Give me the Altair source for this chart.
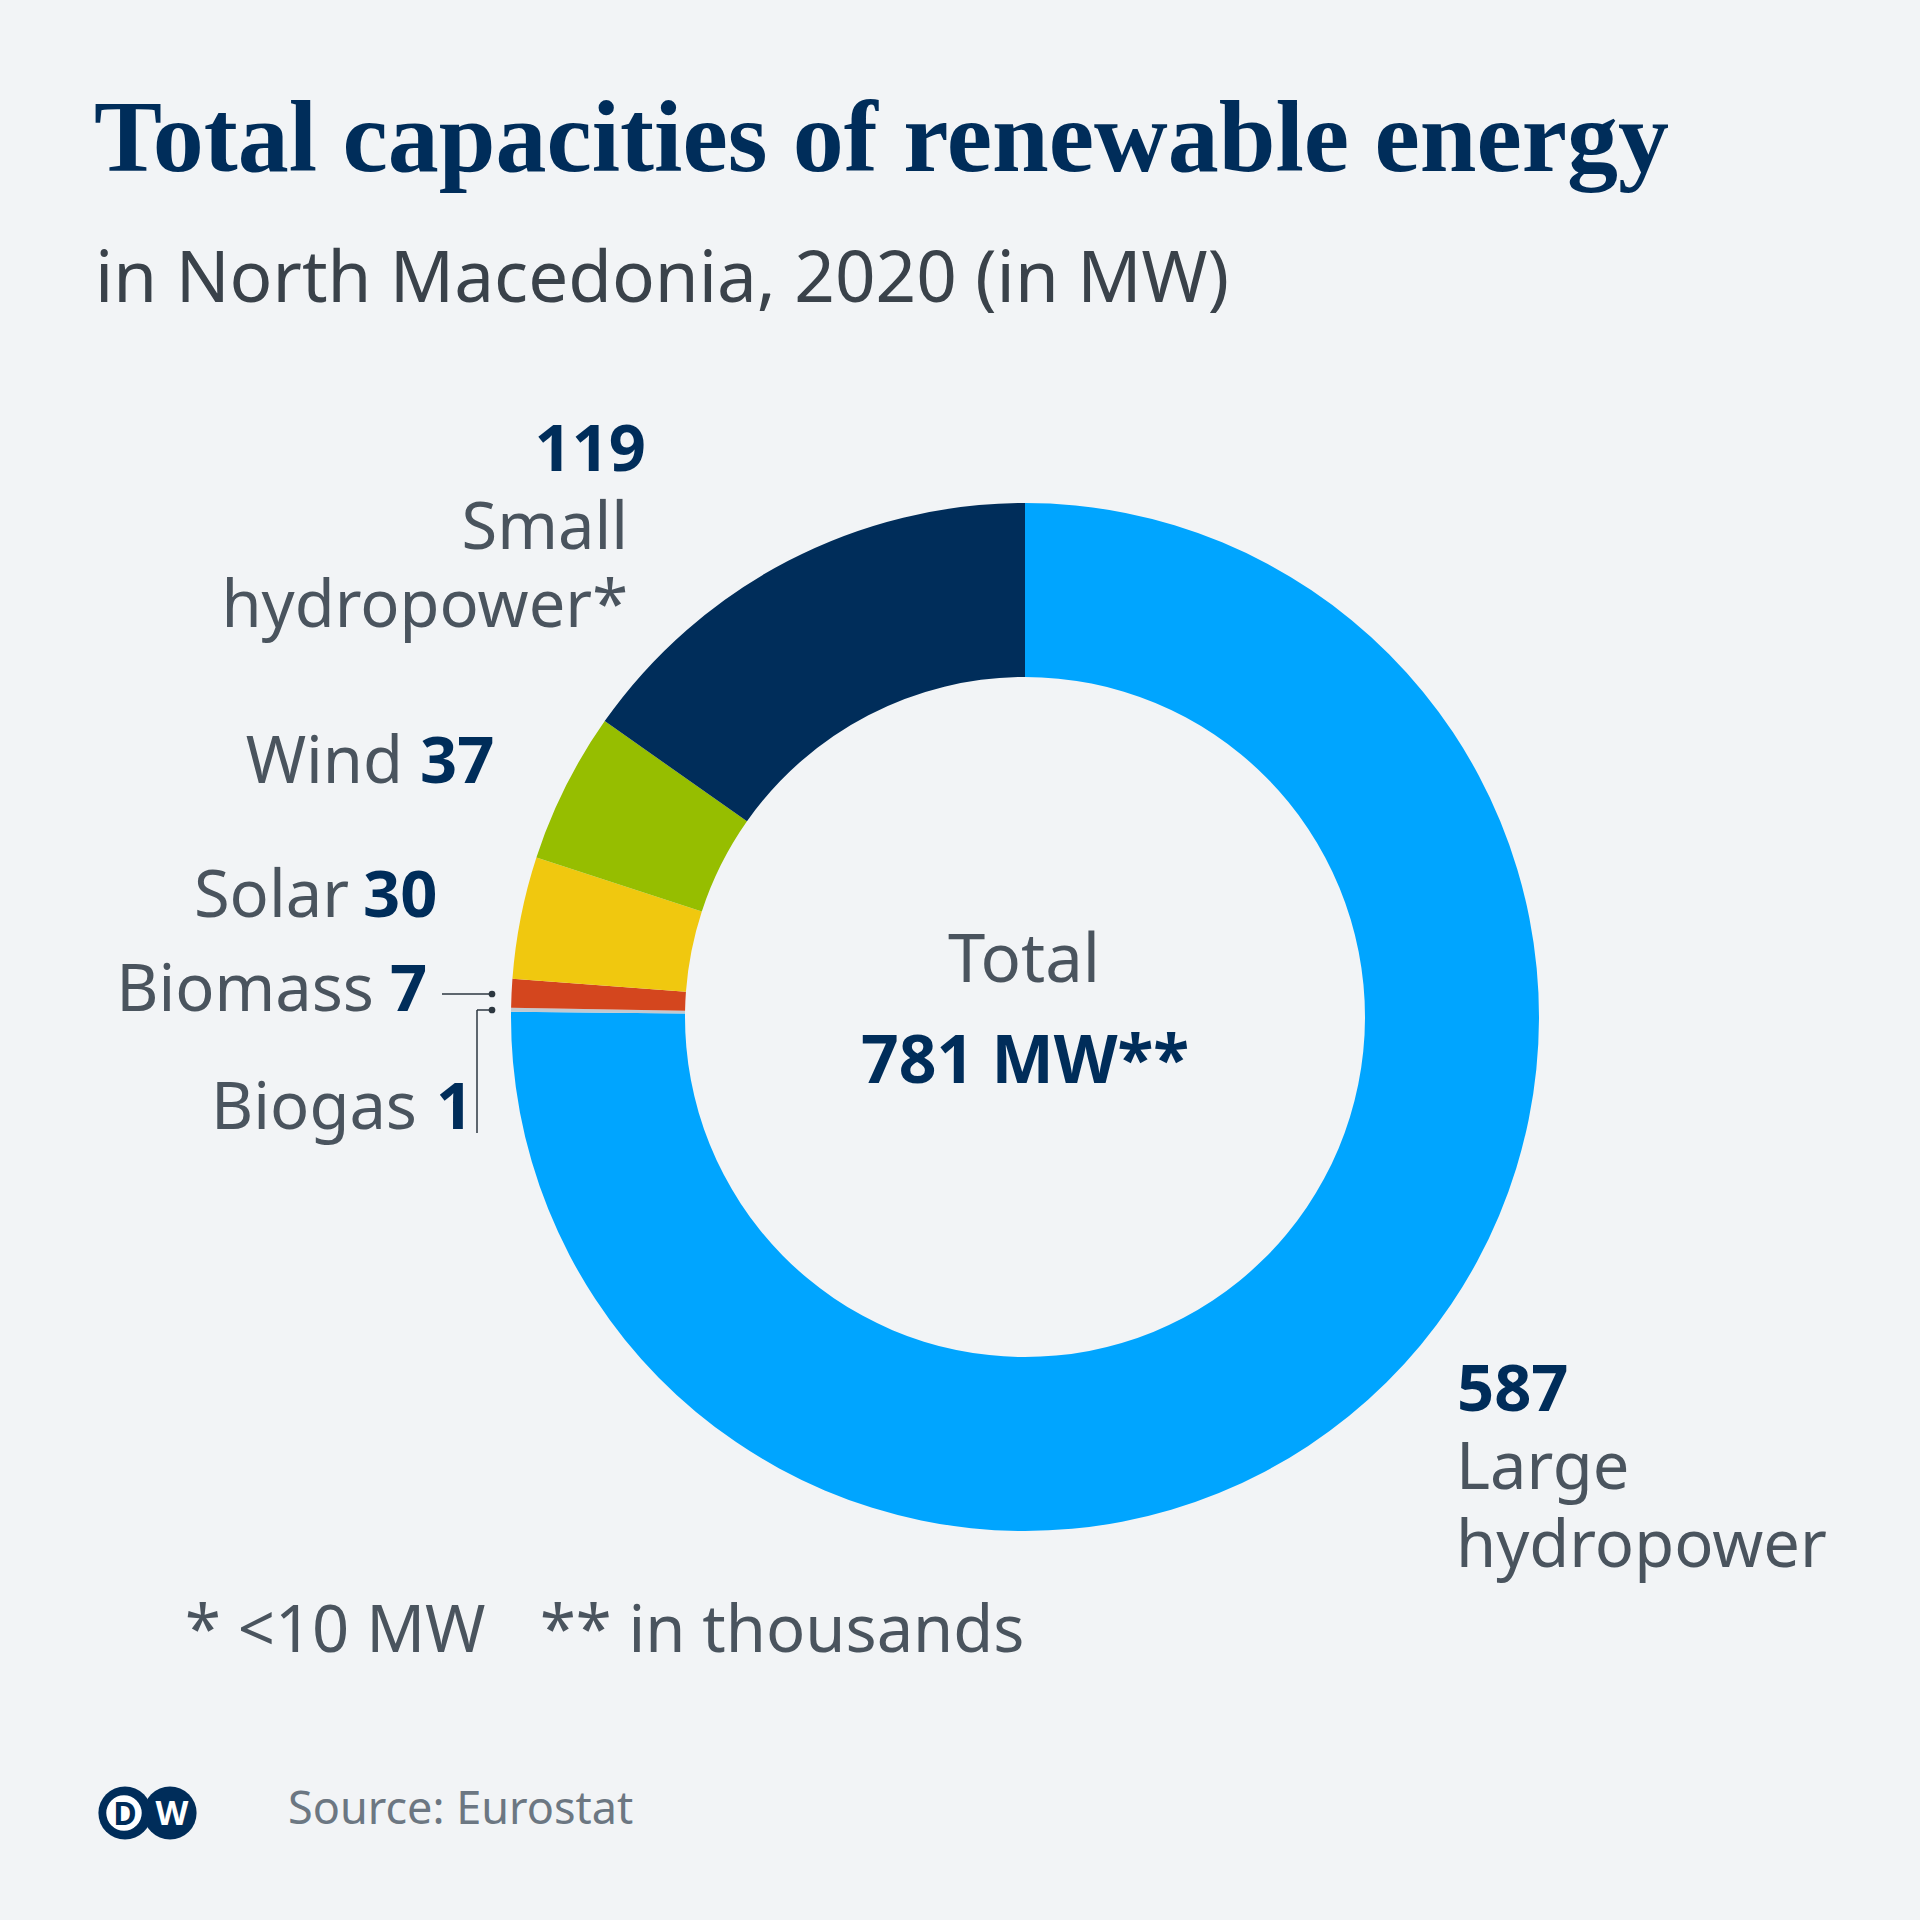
import altair as alt
import pandas as pd

# ---- data ----
categories = ["Large hydropower", "Biogas", "Biomass", "Solar", "Wind", "Small hydropower*"]
values = [587, 1, 7, 30, 37, 119]
colors = ["#00a5ff", "#c2c9d0", "#d4461e", "#f0c80f", "#96be00", "#002d5a"]
total = 781

df = pd.DataFrame({"category": categories, "value": values,
                   "order": list(range(len(categories)))})

NAVY = "#002d5a"
GREY = "#4a545e"
FONT = "Noto Sans"
CX, CY = 1025, 1017

one = alt.Data(values=[{"a": 1}])


def txt(s, x, y, size=65, color=GREY, weight="normal", align="left", font=FONT):
    return alt.Chart(one).mark_text(
        text=s, fontSize=size, color=color, fontWeight=weight, align=align,
        baseline="alphabetic", font=font
    ).encode(x=alt.value(x), y=alt.value(y))


def rule(x1, y1, x2, y2, color="#2d3740", w=1.5):
    return alt.Chart(one).mark_rule(color=color, strokeWidth=w).encode(
        x=alt.value(x1), x2=alt.value(x2), y=alt.value(y1), y2=alt.value(y2))


def dot(x, y, size, color, opacity=1):
    return alt.Chart(one).mark_circle(size=size, color=color, opacity=opacity).encode(
        x=alt.value(x), y=alt.value(y))


donut = alt.Chart(df).mark_arc(innerRadius=340, outerRadius=514).encode(
    theta=alt.Theta("value:Q", stack=True),
    color=alt.Color("category:N", scale=alt.Scale(domain=categories, range=colors), legend=None),
    order=alt.Order("order:Q"),
    x=alt.value(CX), y=alt.value(CY),
)

v = dict(zip(categories, values))

layers = [
    donut,
    # title and subtitle
    txt("Total capacities of renewable energy", 94, 171, size=102, color=NAVY,
        weight="bold", font="Liberation Serif"),
    txt("in North Macedonia, 2020 (in MW)", 95, 302, size=71, color="#3a424a"),
    # small hydropower
    txt(str(v["Small hydropower*"]), 646, 471, color=NAVY, weight="bold", align="right"),
    txt("Small", 628, 549, align="right"),
    txt("hydropower*", 628, 627, align="right"),
    # wind
    txt("Wind", 403, 783, align="right"),
    txt(str(v["Wind"]), 420, 783, color=NAVY, weight="bold"),
    # solar
    txt("Solar", 349, 917, align="right"),
    txt(str(v["Solar"]), 363, 917, color=NAVY, weight="bold"),
    # biomass
    txt("Biomass", 374, 1011, align="right"),
    txt(str(v["Biomass"]), 390, 1011, color=NAVY, weight="bold"),
    # biogas
    txt("Biogas", 417, 1129, align="right"),
    txt(str(v["Biogas"]), 436, 1129, color=NAVY, weight="bold"),
    # large hydropower
    txt(str(v["Large hydropower"]), 1457, 1411, color=NAVY, weight="bold"),
    txt("Large", 1456, 1489),
    txt("hydropower", 1456, 1567),
    # center
    txt("Total", 1024, 982, size=67, align="center"),
    txt(f"{total} MW**", 1025, 1083, size=66, color=NAVY, weight="bold", align="center"),
    # leader lines
    rule(442, 994, 492, 994),
    rule(477, 1010, 492, 1010),
    rule(477, 1010, 477, 1133),
    dot(492, 994, 45, "#2d3740"),
    dot(492, 1010, 45, "#2d3740"),
    # footnotes
    txt("* <10 MW", 185, 1652),
    txt("** in thousands", 540, 1652),
    txt("Source: Eurostat", 288, 1824, size=45, color="#6c7782"),
    # DW logo
    dot(170, 1813, 2827, NAVY),
    dot(125, 1813, 2827, NAVY),
    dot(124, 1813, 1257, "#ffffff"),
    txt("D", 125, 1825, size=32, color=NAVY, weight="bold", align="center"),
    txt("W", 172, 1825, size=34, color="#ffffff", weight="bold", align="center"),
]

chart = alt.layer(*layers).properties(
    width=1920, height=1920, padding=0,
    autosize=alt.AutoSizeParams(type="none"),
    background="#f2f4f6",
).configure_view(stroke=None)

chart.save("out.html", embed_options={"renderer": "svg", "actions": False})
